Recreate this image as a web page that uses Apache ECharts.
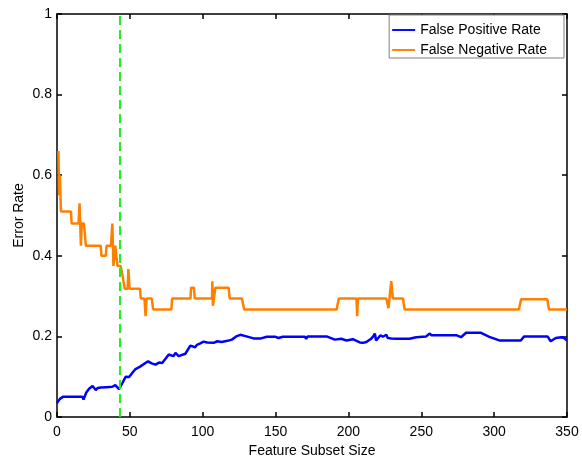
<!DOCTYPE html>
<html>
<head>
<meta charset="utf-8">
<script src="https://cdn.jsdelivr.net/npm/echarts@6/dist/echarts.min.js"></script>
<style>
  html, body { margin: 0; padding: 0; background: #fff; }
  #chart { width: 582px; height: 458px; }
</style>
</head>
<body>
<div id="chart"></div>
<script>
/* =================================
   数据
================================= */

var seriesNames = ["False Positive Rate", "False Negative Rate"];
var xTicks = [0, 50, 100, 150, 200, 250, 300, 350];
var yTicks = [0, 0.2, 0.4, 0.6, 0.8, 1];
var cutoff = 43;

// false positive rate
var fprX = [0, 1, 2, 4, 17.5, 18.2, 20, 22, 24.4, 26.6, 28, 30, 34, 38, 40, 42.6, 45, 47.1, 49.5, 51.6,
  53.9, 57, 60.7, 62.5, 65, 67.6, 70, 72.2, 76.7, 80, 81.3, 83.5, 88.1, 91.5, 94.8, 96, 98, 100.6, 103, 107.5,
  110, 113, 117, 120, 123, 125.8, 127, 130, 134.9, 140, 144, 150, 152, 155, 170.2, 171, 172, 185,
  190.7, 195, 198.7, 203, 207.8, 210, 212.3, 215.8, 217, 218.1, 219, 220.3, 222, 223.7, 226, 227, 229.4,
  232.8, 241.9, 246.5, 253.4, 255.6, 257, 260.2, 273.9, 277.3, 280.7, 291, 296.7, 303.5, 318.3, 320.6,
  336.6, 338.8, 342.3, 346, 348, 349, 350];
var fprY = [0.035, 0.04, 0.045, 0.05, 0.05, 0.043, 0.06, 0.07, 0.077, 0.067, 0.072, 0.073, 0.074, 0.075, 0.079, 0.069, 0.085, 0.1, 0.099, 0.109,
  0.119, 0.125, 0.134, 0.138, 0.133, 0.13, 0.135, 0.134, 0.155, 0.151, 0.159, 0.151, 0.157, 0.177, 0.173, 0.179, 0.182, 0.187, 0.185, 0.184,
  0.188, 0.186, 0.189, 0.192, 0.2, 0.204, 0.202, 0.2, 0.195, 0.195, 0.199, 0.199, 0.196, 0.199, 0.199, 0.194, 0.2, 0.2,
  0.192, 0.194, 0.19, 0.193, 0.185, 0.184, 0.186, 0.195, 0.2, 0.207, 0.19, 0.194, 0.203, 0.199, 0.204, 0.196, 0.195,
  0.194, 0.194, 0.198, 0.2, 0.207, 0.203, 0.203, 0.203, 0.198, 0.209, 0.209, 0.199, 0.19, 0.19, 0.2,
  0.2, 0.188, 0.196, 0.198, 0.196, 0.2, 0.19];

// false negative rate
var fnrX = [1, 1.5, 2, 2.7, 9.6, 10, 14.8, 15.5, 16.4, 17, 18.5, 19.8, 30, 30.5, 33.5, 34, 37, 38, 38.7, 40,
  41.5, 43.7, 45, 46.5, 48.5, 49, 49.8, 57, 57.5, 60, 60.8, 61.5, 65, 66, 78.5, 79, 91.6, 92, 94, 94.5,
  106.4, 106.6, 107, 108.7, 117.8, 118.5, 126.9, 128.5, 191.9, 193.4, 205.5, 206, 206.5, 226, 227.5, 229.4, 230.5, 237.4, 238.5, 317,
  318.5, 336.5, 337.6, 350];
var fnrY = [0.66, 0.55, 0.6, 0.51, 0.51, 0.48, 0.48, 0.53, 0.425, 0.48, 0.48, 0.425, 0.425, 0.4, 0.4, 0.425, 0.425, 0.48, 0.375, 0.425,
  0.375, 0.375, 0.35, 0.318, 0.318, 0.367, 0.318, 0.318, 0.294, 0.294, 0.25, 0.294, 0.294, 0.267, 0.267, 0.294, 0.294, 0.321, 0.321, 0.294,
  0.294, 0.337, 0.276, 0.321, 0.321, 0.294, 0.294, 0.267, 0.267, 0.294, 0.294, 0.25, 0.294, 0.294, 0.27, 0.337, 0.294, 0.294, 0.267, 0.267,
  0.292, 0.292, 0.267, 0.267];

function pairs(xs, ys) {
  return xs.map(function(x, i) { return [x, ys[i]]; });
}

/* =================================
   图表
================================= */

var font = "'Liberation Sans', Arial, sans-serif";
var lineIcon = "path://M0,0H24V2H0Z";

function boxAxis(pos, ticks, showLabel) {
  return {
    type: "value",
    position: pos,
    min: ticks[0],
    max: ticks[ticks.length - 1],
    interval: ticks[1] - ticks[0],
    axisLine: { show: true, onZero: false, lineStyle: { color: "#000", width: 1.5 } },
    axisTick: { show: true, inside: true, length: 5, lineStyle: { color: "#000", width: 1.5 } },
    axisLabel: { show: showLabel, color: "#000", fontSize: 14, fontFamily: font },
    splitLine: { show: false }
  };
}

var xBottom = boxAxis("bottom", xTicks, true);
xBottom.name = "Feature Subset Size";
xBottom.nameLocation = "middle";
xBottom.nameGap = 27;
xBottom.nameMoveOverlap = false;
xBottom.nameTextStyle = { color: "#000", fontSize: 14, fontFamily: font };
xBottom.axisLabel.margin = 8;

var yLeft = boxAxis("left", yTicks, true);
yLeft.name = "Error Rate";
yLeft.nameLocation = "middle";
yLeft.nameGap = 31;
yLeft.nameMoveOverlap = false;
yLeft.nameTextStyle = { color: "#000", fontSize: 14, fontFamily: font };
yLeft.axisLabel.margin = 5;

var chart = echarts.init(document.getElementById("chart"));
chart.setOption({
  animation: false,
  backgroundColor: "#fff",
  grid: { left: 57, right: 15, top: 14, bottom: 41, outerBoundsMode: "none" },
  legend: {
    orient: "vertical",
    right: 18,
    top: 15,
    padding: [8, 17, 1, 3],
    itemGap: 6,
    itemWidth: 23,
    itemHeight: 14,
    backgroundColor: "#fff",
    borderColor: "#808080",
    borderWidth: 1,
    textStyle: { color: "#000", fontSize: 14, fontFamily: font },
    data: [
      { name: seriesNames[0], icon: lineIcon },
      { name: seriesNames[1], icon: lineIcon }
    ]
  },
  xAxis: [xBottom, boxAxis("top", xTicks, false)],
  yAxis: [yLeft, boxAxis("right", yTicks, false)],
  series: [
    {
      name: seriesNames[0],
      type: "line",
      symbol: "none",
      data: pairs(fprX, fprY),
      lineStyle: { color: "#0000ff", width: 2.5 },
      itemStyle: { color: "#0000ff" }
    },
    {
      name: seriesNames[1],
      type: "line",
      symbol: "none",
      data: pairs(fnrX, fnrY),
      lineStyle: { color: "#ff8000", width: 2.5 },
      itemStyle: { color: "#ff8000" },
      markLine: {
        silent: true,
        symbol: "none",
        label: { show: false },
        lineStyle: { color: "#22ee22", type: [9, 5], width: 2 },
        data: [{ xAxis: cutoff }]
      }
    }
  ]
});
</script>
</body>
</html>
